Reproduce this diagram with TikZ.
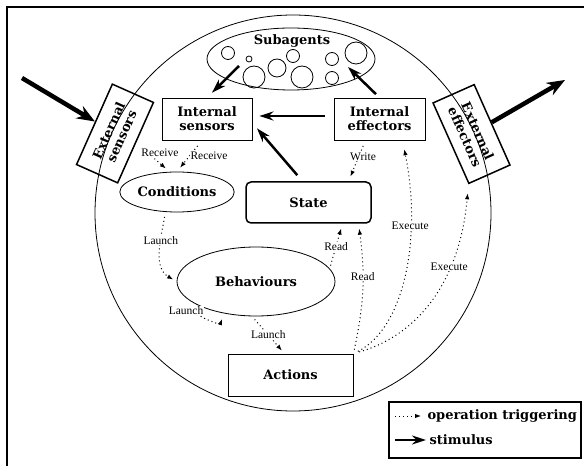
\documentclass[tikz,border=0pt]{standalone}
\usepackage{fontspec}
\setmainfont{DejaVu Serif}
\newfontfamily\lblfont{Liberation Serif}
\usetikzlibrary{shapes.geometric,arrows.meta}

\begin{document}
\begin{tikzpicture}[x=1pt,y=1pt,
  boldtxt/.style={font=\bfseries\fontsize{13}{14}\selectfont},
  mybox/.style={draw,line width=0.8pt,minimum width=90,minimum height=42,align=center,boldtxt,inner sep=2pt},
  extbox/.style={mybox,line width=1.5pt,minimum width=88,minimum height=45},
  myoval/.style={draw,ellipse,line width=0.8pt,boldtxt,inner sep=1pt},
  lbl/.style={font=\lblfont\fontsize{11.5}{12}\selectfont,fill=white,inner sep=0.5pt},
  trig/.style={line width=1pt,dash pattern=on 1pt off 3pt,-{Latex[length=6pt,width=4.5pt]}},
  stim/.style={line width=2.5pt,-{Stealth[length=14pt,width=9pt]}},
  bigstim/.style={line width=4.5pt,-{Stealth[length=18pt,width=14pt]}}]
\useasboundingbox (0,0) rectangle (588,466);
\draw[line width=2.4pt] (7,0) -- (7,459) -- (584,459);

\node[draw,circle,line width=0.8pt,minimum size=396] (agent) at (293,253) {};
\node[draw,ellipse,line width=0.8pt,minimum width=168,minimum height=62] (subag) at (291,407) {};
\node[boldtxt] (subtxt) at (292,425) {Subagents};
\foreach \cx/\cy/\r in {228/413/6.5,249/407/3,254/389/11,277/398/9,293/410/6.5,302/389/11,332/407/6.5,332/388/6.5,356/413/11}
  {\draw[line width=0.8pt] (\cx,\cy) circle (\r pt);}

\node[mybox] (isens) at (207,347) {Internal\\sensors};
\node[mybox,minimum width=91] (ieff) at (379.5,347) {Internal\\effectors};
\node[extbox,rotate=66] (extsens) at (115,332.5) {External\\sensors};
\node[extbox,rotate=-66] (exteff) at (471.5,332) {External\\effectors};
\node[mybox,line width=1.5pt,rounded corners=5pt,minimum width=125,minimum height=41] (state) at (308.5,263.5) {State};
\node[myoval,minimum width=106,minimum height=40] (cond) at (177,274) {Conditions};
\node[myoval,minimum width=158,minimum height=69] (beh) at (256,184.5) {Behaviours};
\node[mybox,minimum width=125] (actions) at (290.5,91) {Actions};

\coordinate (instim) at (22,388);
\coordinate (outstim) at (565,386);
\coordinate (sa1) at (239,400);
\coordinate (sa2) at (348,399);
\draw[bigstim] (instim) -- (extsens);
\draw[bigstim] (exteff) -- (outstim);
\draw[stim,shorten >=7pt] (sa1) -- (isens.north);
\draw[stim,shorten <=5pt] (ieff.north) -- (sa2);
\draw[stim,shorten <=9pt,shorten >=7pt] ([yshift=3pt]ieff.west) -- ([yshift=3pt]isens.east);
\draw[stim,shorten <=8pt,shorten >=7pt] ([xshift=-6pt]state.north) -- ([yshift=-4pt]isens.east);

\draw[trig,shorten <=8pt,shorten >=5pt] (extsens.south) -- node[lbl,xshift=7pt,yshift=5pt] {Receive} (cond.110);
\draw[trig,shorten <=7pt,shorten >=5pt] ([xshift=-5pt]isens.south) -- node[lbl,right] {Receive} (cond.north);
\draw[trig,shorten <=6pt,shorten >=5pt] ([xshift=-14pt]ieff.south) -- node[lbl,xshift=6pt,yshift=4pt] {Write} ([xshift=40pt]state.north);
\draw[trig,shorten <=5pt,shorten >=4pt] (cond.240) to[out=-100,in=150] node[lbl,pos=0.35] {Launch} (beh.west);
\draw[trig,shorten <=4pt,shorten >=6pt] (beh.200) to[out=250,in=-110] node[lbl,pos=0.15,xshift=-9pt,yshift=-2pt] {Launch} (beh.225);
\draw[trig,shorten <=4pt,shorten >=4pt] ([xshift=-4pt]beh.south) -- node[lbl] {Launch} ([xshift=-6pt]actions.north);
\draw[trig,shorten <=3pt,shorten >=5pt] (beh.10) -- node[lbl] {Read} ([xshift=34pt]state.south);
\draw[trig,shorten <=4pt,shorten >=5pt] (actions.north east) to[bend right=10] node[lbl,pos=0.6] {Read} ([xshift=50pt]state.south);
\draw[trig,shorten <=5pt,shorten >=9pt] (actions.north east) .. controls +(50,25) and +(20,-100) .. node[lbl,pos=0.7] {Execute} ([xshift=23pt]ieff.south);
\draw[trig,shorten <=6pt,shorten >=9pt] (actions.north east) .. controls +(70,20) and +(-8,-90) .. node[lbl,pos=0.65] {Execute} (exteff.south east);

\draw[line width=1.5pt] (389,8) rectangle (581,64);
\coordinate (lt) at (395,50);
\node[boldtxt,anchor=west] (legtrig) at (424,50) {operation triggering};
\draw[trig,shorten >=3pt] (lt) -- (legtrig.west);
\coordinate (ls) at (395,26);
\node[boldtxt,anchor=west] (legstim) at (426,26) {stimulus};
\draw[stim,line width=2pt] (ls) -- (legstim.west);
\end{tikzpicture}
\end{document}
